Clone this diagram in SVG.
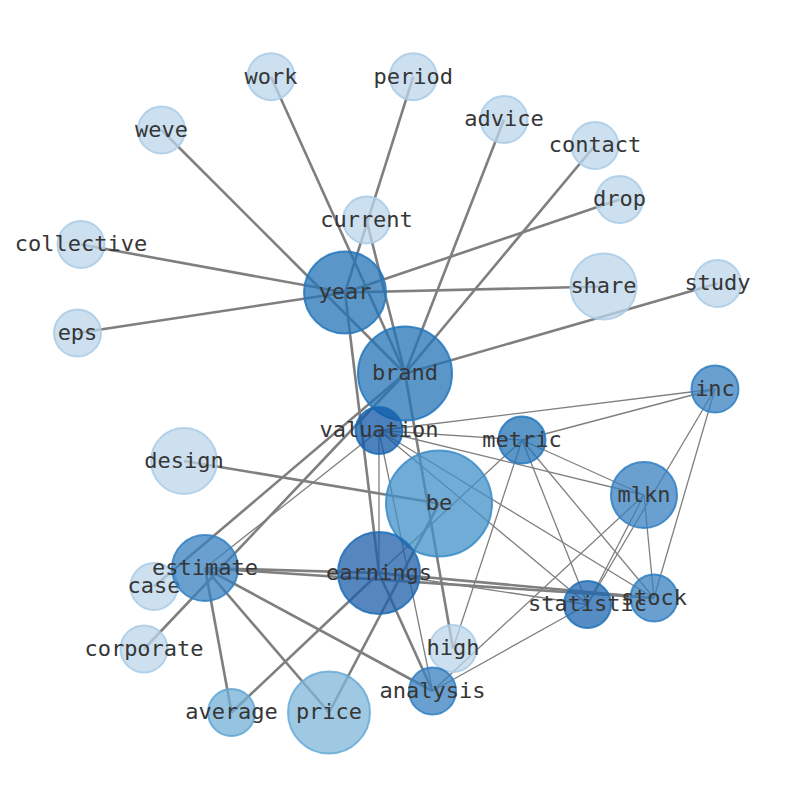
<svg xmlns="http://www.w3.org/2000/svg" width="794" height="790" viewBox="0 0 794 790">
<style>
.e line{stroke:#7f7f7f;fill:none;stroke-linecap:butt}
.t{stroke-width:2.6}
.h{stroke-width:1.3}
circle{stroke-width:2;fill-opacity:.75;stroke-opacity:.85}
.lt{fill:#bcd6eb;stroke:#a9cbe6}
.pr{fill:#7fb7da;stroke:#6aaad6}
.av{fill:#73b0d6;stroke:#5ea4d2}
.be{fill:#4090c7;stroke:#3a8cc8}
.md{fill:#3780c0;stroke:#2f7fc2}
.dk{fill:#2473b6;stroke:#2277bd}
.st{fill:#1c66af;stroke:#1f70b8}
.er{fill:#1c5fa8;stroke:#1e6db6}
.va{fill:#0f58a8;stroke:#166ab5}
text{font-family:"DejaVu Sans Mono","Liberation Mono",monospace;font-size:22px;fill:#363636;text-anchor:middle}
</style>
<rect width="794" height="790" fill="#fff"/>
<g id="edges" class="e">
<g class="t">
<line x1="345" y1="292.5" x2="81" y2="244.5"/>
<line x1="345" y1="292.5" x2="77.5" y2="333"/>
<line x1="345" y1="292.5" x2="603.5" y2="286.5"/>
<line x1="345" y1="292.5" x2="619.5" y2="199.5"/>
<line x1="345" y1="292.5" x2="413.3" y2="76.7"/>
<line x1="345" y1="292.5" x2="379" y2="573"/>
<line x1="405" y1="373.5" x2="271" y2="76.7"/>
<line x1="405" y1="373.5" x2="161.5" y2="130"/>
<line x1="405" y1="373.5" x2="366.5" y2="220"/>
<line x1="405" y1="373.5" x2="504" y2="119.5"/>
<line x1="405" y1="373.5" x2="595" y2="145.5"/>
<line x1="405" y1="373.5" x2="717.5" y2="283.5"/>
<line x1="405" y1="373.5" x2="453" y2="648.5"/>
<line x1="405" y1="373.5" x2="154" y2="586.5"/>
<line x1="405" y1="373.5" x2="144" y2="649"/>
<line x1="184" y1="461" x2="439" y2="503.5"/>
<line x1="439" y1="503.5" x2="329" y2="712.5"/>
<line x1="205" y1="568" x2="379" y2="573"/>
<line x1="205" y1="568" x2="654" y2="598"/>
<line x1="379" y1="573" x2="654" y2="598"/>
<line x1="205" y1="568" x2="231.5" y2="712.5"/>
<line x1="205" y1="568" x2="329" y2="712.5"/>
<line x1="205" y1="568" x2="432.5" y2="691"/>
<line x1="379" y1="573" x2="432.5" y2="691"/>
<line x1="379" y1="573" x2="231.5" y2="712.5"/>
</g>
<g class="h">
<line x1="379" y1="430.5" x2="715" y2="389"/>
<line x1="379" y1="430.5" x2="522" y2="440"/>
<line x1="379" y1="430.5" x2="644" y2="495"/>
<line x1="379" y1="430.5" x2="654" y2="598"/>
<line x1="379" y1="430.5" x2="587.5" y2="604.5"/>
<line x1="379" y1="430.5" x2="205" y2="568"/>
<line x1="379" y1="430.5" x2="379" y2="573"/>
<line x1="379" y1="430.5" x2="432.5" y2="691"/>
<line x1="522" y1="440" x2="715" y2="389"/>
<line x1="522" y1="440" x2="644" y2="495"/>
<line x1="522" y1="440" x2="654" y2="598"/>
<line x1="522" y1="440" x2="587.5" y2="604.5"/>
<line x1="522" y1="440" x2="453" y2="648.5"/>
<line x1="522" y1="440" x2="379" y2="573"/>
<line x1="715" y1="389" x2="587.5" y2="604.5"/>
<line x1="715" y1="389" x2="654" y2="598"/>
<line x1="644" y1="495" x2="587.5" y2="604.5"/>
<line x1="644" y1="495" x2="654" y2="598"/>
<line x1="644" y1="495" x2="432.5" y2="691"/>
<line x1="432.5" y1="691" x2="587.5" y2="604.5"/>
<line x1="379" y1="573" x2="587.5" y2="604.5"/>
</g>
</g>
<g id="nodes">
<g id="work"><circle class="lt" cx="271" cy="76.7" r="23.5"/><text x="271" y="83.5">work</text></g>
<g id="period"><circle class="lt" cx="413.3" cy="76.7" r="23.5"/><text x="413.3" y="83.5">period</text></g>
<g id="weve"><circle class="lt" cx="161.5" cy="130" r="23.5"/><text x="161.5" y="136.8">weve</text></g>
<g id="advice"><circle class="lt" cx="504" cy="119.5" r="23.5"/><text x="504" y="126.3">advice</text></g>
<g id="contact"><circle class="lt" cx="595" cy="145.5" r="23.5"/><text x="595" y="152.3">contact</text></g>
<g id="current"><circle class="lt" cx="366.5" cy="220" r="23.5"/><text x="366.5" y="226.8">current</text></g>
<g id="drop"><circle class="lt" cx="619.5" cy="199.5" r="23.5"/><text x="619.5" y="206.3">drop</text></g>
<g id="collective"><circle class="lt" cx="81" cy="244.5" r="23.5"/><text x="81" y="251.3">collective</text></g>
<g id="year"><circle class="dk" cx="345" cy="292.5" r="41"/><text x="345" y="299.3">year</text></g>
<g id="share"><circle class="lt" cx="603.5" cy="286.5" r="33"/><text x="603.5" y="293.3">share</text></g>
<g id="study"><circle class="lt" cx="717.5" cy="283.5" r="23.5"/><text x="717.5" y="290.3">study</text></g>
<g id="eps"><circle class="lt" cx="77.5" cy="333" r="23.5"/><text x="77.5" y="339.8">eps</text></g>
<g id="brand"><circle class="dk" cx="405" cy="373.5" r="47"/><text x="405" y="380.3">brand</text></g>
<g id="inc"><circle class="md" cx="715" cy="389" r="23.5"/><text x="715" y="395.8">inc</text></g>
<g id="design"><circle class="lt" cx="184" cy="461" r="33"/><text x="184" y="467.8">design</text></g>
<g id="be"><circle class="be" cx="439" cy="503.5" r="53"/><text x="439" y="510.3">be</text></g>
<g id="valuation"><circle class="va" cx="379" cy="430.5" r="23.5"/><text x="379" y="437.3">valuation</text></g>
<g id="metric"><circle class="dk" cx="522" cy="440" r="23.5"/><text x="522" y="446.8">metric</text></g>
<g id="mlkn"><circle class="md" cx="644" cy="495" r="33"/><text x="644" y="501.8">mlkn</text></g>
<g id="case"><circle class="lt" cx="154" cy="586.5" r="23.5"/><text x="154" y="593.3">case</text></g>
<g id="estimate"><circle class="md" cx="205" cy="568" r="33"/><text x="205" y="574.8">estimate</text></g>
<g id="earnings"><circle class="er" cx="379" cy="573" r="41"/><text x="379" y="579.8">earnings</text></g>
<g id="stock"><circle class="md" cx="654" cy="598" r="23.5"/><text x="654" y="604.8">stock</text></g>
<g id="statistic"><circle class="st" cx="587.5" cy="604.5" r="23.5"/><text x="587.5" y="611.3">statistic</text></g>
<g id="corporate"><circle class="lt" cx="144" cy="649" r="23.5"/><text x="144" y="655.8">corporate</text></g>
<g id="high"><circle class="lt" cx="453" cy="648.5" r="23.5"/><text x="453" y="655.3">high</text></g>
<g id="analysis"><circle class="md" cx="432.5" cy="691" r="23.5"/><text x="432.5" y="697.8">analysis</text></g>
<g id="average"><circle class="av" cx="231.5" cy="712.5" r="23.5"/><text x="231.5" y="719.3">average</text></g>
<g id="price"><circle class="pr" cx="329" cy="712.5" r="41"/><text x="329" y="719.3">price</text></g>
</g>
</svg>
